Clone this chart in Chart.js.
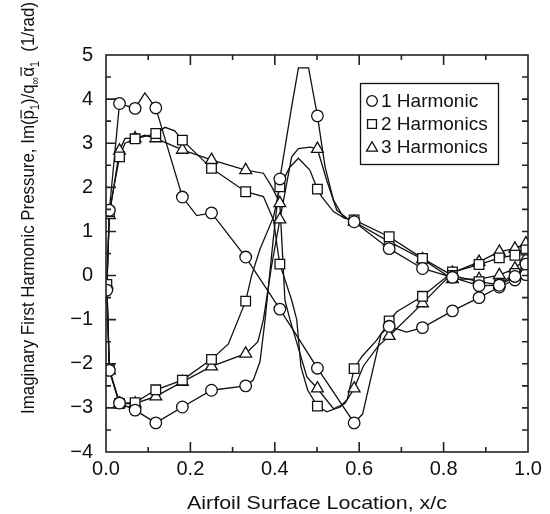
<!DOCTYPE html>
<html>
<head>
<meta charset="utf-8">
<script src="https://cdn.jsdelivr.net/npm/chart.js@4.4.0/dist/chart.umd.min.js"></script>
<style>
  html, body { margin: 0; padding: 0; background: #fff; }
  #wrap { width: 550px; height: 514px; }
</style>
</head>
<body>
<div id="wrap"><canvas id="myChart" width="550" height="514"></canvas></div>
<script>
// x/c of the marked stations
const stationX = [0.002, 0.008, 0.032, 0.069, 0.118, 0.181, 0.250, 0.331, 0.412, 0.501, 0.588, 0.671, 0.750, 0.821, 0.884, 0.932, 0.969, 0.995];

// values at the stations, one array per surface
const h1Upper = [-0.33, 1.48, 3.90, 3.79, 3.80, 1.78, 1.42, 0.42, -0.76, -2.10, -3.34, -1.15, -1.18, -0.80, -0.50, -0.26, -0.10, 0.02];
const h1Lower = [-0.33, -2.15, -2.89, -3.05, -3.34, -2.98, -2.60, -2.50, 2.19, 3.62, 1.22, 0.61, 0.16, -0.04, -0.23, -0.22, -0.02, 0.26];
const h2Upper = [-0.20, 1.45, 2.69, 3.10, 3.22, 3.07, 2.43, 1.90, 0.26, -2.96, -2.11, -1.03, -0.47, 0.08, 0.25, 0.40, 0.46, 0.58];
const h2Lower = [-0.20, -2.12, -2.90, -2.88, -2.59, -2.37, -1.90, -0.58, 2.01, 1.96, 1.26, 0.88, 0.39, 0.00, -0.14, -0.21, 0.05, 0.12];
const h3Upper = [-0.20, 1.37, 2.83, 3.11, 3.11, 2.85, 2.62, 2.39, 1.64, -2.56, -2.56, -1.37, -0.63, 0.06, 0.31, 0.54, 0.61, 0.73];
const h3Lower = [-0.20, -2.15, -2.90, -2.90, -2.74, -2.41, -2.06, -1.77, 1.27, 2.87, 1.22, 0.77, 0.37, -0.08, -0.08, 0.01, 0.16, 0.39];

// the curves are finer than the markers: extra [x, y] points between stations
const h1UpperExtra = [[0.092, 4.14], [0.215, 1.36], [0.608, -3.14], [0.652, -1.32], [0.712, -1.28]];
const h1LowerExtra = [[0.349, -2.37], [0.365, -1.95], [0.377, -1.0], [0.395, 0.7], [0.44, 3.83], [0.456, 4.71], [0.480, 4.71], [0.519, 2.47], [0.539, 1.71], [0.562, 1.33]];
const h2UpperExtra = [[0.045, 3.0], [0.14, 3.36], [0.163, 3.28], [0.373, 1.79], [0.397, 1.26], [0.408, 0.5], [0.44, -0.56], [0.452, -1.0], [0.462, -2.07], [0.478, -2.6], [0.523, -3.09], [0.555, -2.98], [0.572, -2.8], [0.606, -1.84], [0.641, -1.47], [0.661, -1.2], [0.689, -0.82]];
const h2LowerExtra = [[0.29, -1.55], [0.345, 0.0], [0.365, 0.6], [0.397, 1.33], [0.435, 2.45], [0.456, 2.66], [0.483, 2.39], [0.511, 1.79], [0.539, 1.45], [0.565, 1.30]];
const h3UpperExtra = [[0.045, 3.11], [0.092, 3.18], [0.373, 2.32], [0.393, 2.01], [0.424, -0.56], [0.436, -1.0], [0.476, -2.30], [0.539, -3.02], [0.566, -2.90], [0.61, -2.05], [0.645, -1.6]];
const h3LowerExtra = [[0.36, -1.5], [0.373, -1.0], [0.392, 0.2], [0.44, 2.69], [0.456, 2.88], [0.484, 2.91], [0.523, 2.16], [0.547, 1.48], [0.575, 1.27]];

const seriesNames = ['1 Harmonic', '2 Harmonics', '3 Harmonics'];
const xTicks = [0, 0.2, 0.4, 0.6, 0.8, 1.0];

const FONT = "'Liberation Sans', Arial, Helvetica, sans-serif";
const INK = '#111';

function curve(ys, extra) {
    const pts = stationX.map((x, i) => ({ x: x, y: ys[i] }));
    extra.forEach(p => pts.push({ x: p[0], y: p[1] }));
    return pts.sort((a, b) => a.x - b.x);
}
// trailing edge -> upper -> leading edge -> lower -> trailing edge
function loop(up, upEx, low, lowEx) {
    return curve(up, upEx).reverse().concat(curve(low, lowEx).slice(1));
}
function marks(up, low) {
    const pts = stationX.map((x, i) => ({ x: x, y: up[i] }));
    return pts.concat(stationX.slice(1).map((x, i) => ({ x: x, y: low[i + 1] })));
}

const styles = [
    { pointStyle: 'circle', radius: 5.8 },
    { pointStyle: 'rect', radius: 6.8 },
    { pointStyle: 'triangle', radius: 6.8 }
];
const lines = [
    loop(h1Upper, h1UpperExtra, h1Lower, h1LowerExtra),
    loop(h2Upper, h2UpperExtra, h2Lower, h2LowerExtra),
    loop(h3Upper, h3UpperExtra, h3Lower, h3LowerExtra)
];
const markers = [marks(h1Upper, h1Lower), marks(h2Upper, h2Lower), marks(h3Upper, h3Lower)];

const datasets = [];
lines.forEach((d, i) => datasets.push({
    label: seriesNames[i] + ' line', data: d, showLine: true,
    borderColor: INK, borderWidth: 1.3, pointRadius: 0, order: 1
}));
markers.forEach((d, i) => datasets.push({
    label: seriesNames[i], data: d, showLine: false,
    pointStyle: styles[i].pointStyle, pointRadius: styles[i].radius,
    pointBackgroundColor: '#fff', pointBorderColor: INK, pointBorderWidth: 1.3, order: 0
}));

// frame with inward ticks on all four sides
const framePlugin = {
    id: 'frame',
    afterDatasetsDraw(chart) {
        const { ctx, chartArea: a, scales } = chart;
        ctx.save();
        ctx.strokeStyle = '#222';
        ctx.lineWidth = 1.6;
        ctx.beginPath();
        for (let i = 1; i < 10; i++) {
            const px = scales.x.getPixelForValue(i / 10);
            const len = i % 2 === 0 ? 10 : 5;
            ctx.moveTo(px, a.bottom); ctx.lineTo(px, a.bottom - len);
            ctx.moveTo(px, a.top); ctx.lineTo(px, a.top + len);
        }
        for (let v = -3.5; v < 5; v += 0.5) {
            const py = scales.y.getPixelForValue(v);
            const len = Number.isInteger(v) ? 10 : 5;
            ctx.moveTo(a.left, py); ctx.lineTo(a.left + len, py);
            ctx.moveTo(a.right, py); ctx.lineTo(a.right - 6, py);
        }
        ctx.stroke();
        ctx.strokeRect(a.left, a.top, a.right - a.left, a.bottom - a.top);
        ctx.restore();
    }
};

// boxed legend inside the plot
const legendPlugin = {
    id: 'boxLegend',
    afterDraw(chart) {
        const ctx = chart.ctx;
        ctx.save();
        ctx.strokeStyle = INK;
        ctx.lineWidth = 1.3;
        ctx.strokeRect(360.5, 83.5, 138, 81);
        ctx.font = '19px ' + FONT;
        ctx.textBaseline = 'middle';
        const rows = [101, 124, 147];
        seriesNames.forEach((name, i) => {
            ctx.fillStyle = '#fff';
            ctx.strokeStyle = INK;
            ctx.lineWidth = 1.3;
            Chart.helpers.drawPoint(ctx, { pointStyle: styles[i].pointStyle, radius: styles[i].radius - 0.5, rotation: 0, borderWidth: 1.3 }, 372, rows[i] + (i === 2 ? 1 : 0));
            ctx.fillStyle = INK;
            ctx.fillText(name, 381, rows[i] + 1);
        });
        ctx.restore();
    }
};

// draw text stretched or squeezed along its run to a given length
function fitText(ctx, segs, len) {
    const big = '19px ' + FONT, small = '12px ' + FONT;
    let total = 0;
    segs.forEach(s => { ctx.font = s.k === 'sub' ? small : big; s.w = ctx.measureText(s.t).width; total += s.w; });
    ctx.scale(len / total, 1);
    let x = -total / 2;
    segs.forEach(s => {
        ctx.font = s.k === 'sub' ? small : big;
        ctx.fillText(s.t, x, s.k === 'sub' ? 5 : 0);
        if (s.k === 'bar') ctx.fillRect(x + 1, -13.5, s.w - 1, 1.2);
        x += s.w;
    });
}

// axis titles, the y title has subscripts and overbars
const titlePlugin = {
    id: 'axisTitles',
    afterDraw(chart) {
        const ctx = chart.ctx;
        const a = chart.chartArea;
        ctx.save();
        ctx.fillStyle = INK;
        ctx.textAlign = 'left';
        ctx.textBaseline = 'alphabetic';
        ctx.save();
        ctx.translate((a.left + a.right) / 2, 509);
        fitText(ctx, [{ t: 'Airfoil Surface Location, x/c', k: 'n' }], 260);
        ctx.restore();

        ctx.translate(34, 208);
        ctx.rotate(-Math.PI / 2);
        fitText(ctx, [
            { t: 'Imaginary First Harmonic Pressure, Im(', k: 'n' },
            { t: 'p', k: 'bar' }, { t: '1', k: 'sub' },
            { t: ')/q', k: 'n' }, { t: '\u221E', k: 'sub' },
            { t: '\u03B1', k: 'bar' }, { t: '1', k: 'sub' },
            { t: '  (1/rad)', k: 'n' }
        ], 412);
        ctx.restore();
    }
};

const chart = new Chart(document.getElementById('myChart').getContext('2d'), {
    type: 'scatter',
    data: { datasets: datasets },
    options: {
        responsive: false,
        animation: false,
        events: [],
        layout: { padding: { top: 55, right: 22, left: 0, bottom: 0 } },
        plugins: { legend: { display: false }, tooltip: { enabled: false } },
        scales: {
            x: {
                type: 'linear', min: 0, max: 1,
                afterBuildTicks: s => { s.ticks = xTicks.map(v => ({ value: v })); },
                ticks: {
                    callback: v => v.toFixed(1),
                    font: { family: FONT, size: 20 }, color: INK, padding: 5, maxRotation: 0, autoSkip: false
                },
                grid: { display: false, drawTicks: false },
                border: { display: false },
                afterFit: s => { s.height = 62; s.paddingLeft = 0; s.paddingRight = 0; }
            },
            y: {
                type: 'linear', min: -4, max: 5,
                ticks: {
                    stepSize: 1,
                    callback: v => String(v).replace('-', '\u2212'),
                    font: { family: FONT, size: 20 }, color: INK, padding: 13
                },
                grid: { display: false, drawTicks: false },
                border: { display: false },
                afterFit: s => { s.width = 106; s.paddingTop = 0; s.paddingBottom = 0; }
            }
        }
    },
    plugins: [framePlugin, legendPlugin, titlePlugin]
});
</script>
</body>
</html>
